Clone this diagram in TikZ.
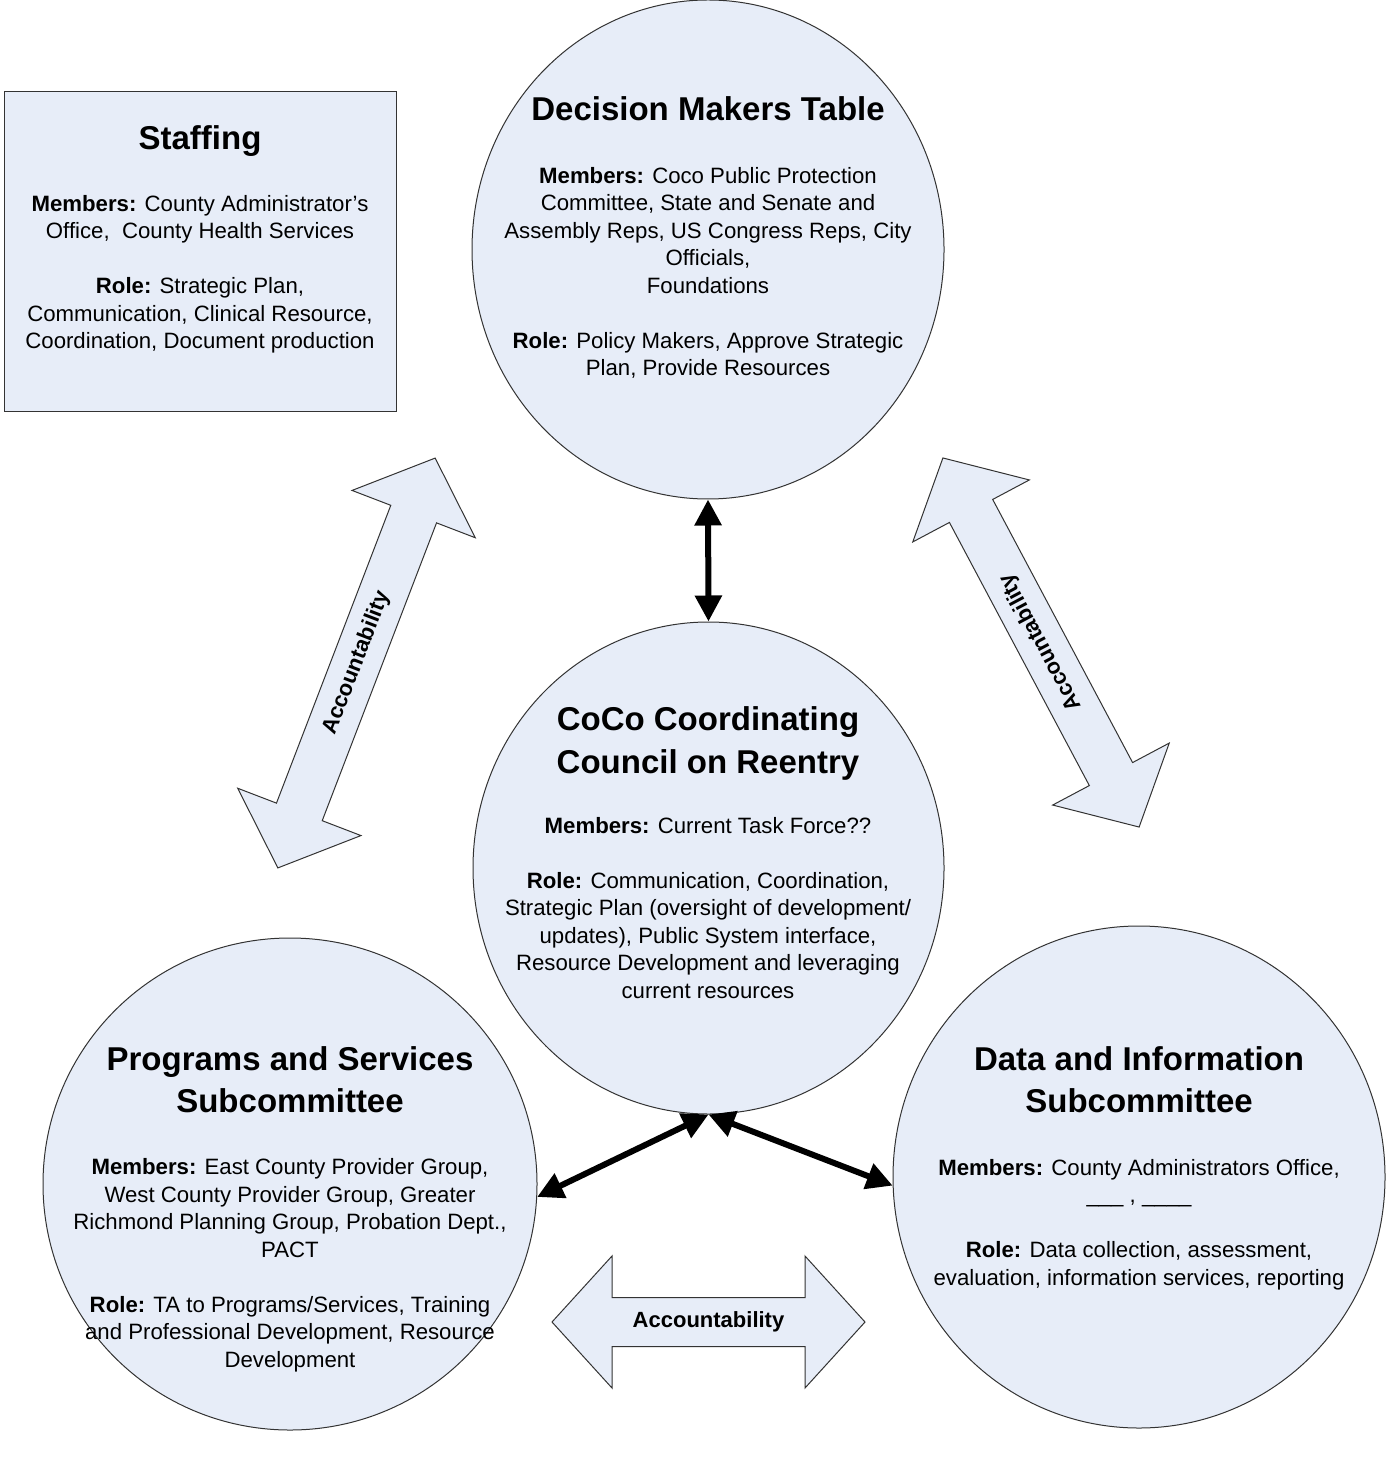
\documentclass[tikz,border=0pt]{standalone}
\usepackage{fontspec}
\setmainfont{Liberation Sans}
\usetikzlibrary{shapes.geometric,arrows.meta}
\definecolor{paleblue}{RGB}{231,237,248}
\tikzset{
  bubble/.style={ellipse,draw=black!80,fill=paleblue,line width=.5pt,inner sep=0pt},
  headline/.style={font=\fontsize{16.5}{21}\selectfont\bfseries,align=center,anchor=base,inner sep=0pt},
  bodytext/.style={font=\fontsize{11.1}{13.75}\selectfont,align=center,anchor=base,inner sep=0pt},
  link/.style={line width=3pt,{Triangle[length=13pt,width=13pt]}-{Triangle[length=13pt,width=13pt]}},
  accshape/.style={draw=black!80,fill=paleblue,line width=.5pt,line join=miter},
  acclabel/.style={font=\fontsize{11}{13}\selectfont\bfseries,inner sep=0pt}
}
% centre, angle, half length, label angle
\newcommand{\accarrow}[4]{%
  \begin{scope}[shift={#1},rotate=#2]
    \draw[accshape] (-#3,0) -- (-#3+60,66) -- (-#3+60,24.5) -- (#3-60,24.5) -- (#3-60,66)
      -- (#3,0) -- (#3-60,-66) -- (#3-60,-24.5) -- (-#3+60,-24.5) -- (-#3+60,-66) -- cycle;
  \end{scope}
  \node[acclabel,rotate=#4] at #1 {Accountability};}
\begin{document}
\begin{tikzpicture}[x=.5pt,y=-.5pt]
\fill[white] (0,0) rectangle (1390,1459);
\useasboundingbox (0,0) rectangle (1390,1459);
%
\node[draw=black!80,fill=paleblue,line width=.5pt,inner sep=0pt,
  minimum width=196pt,minimum height=160pt] (staffing) at (200,252) {};
\node[bubble,minimum width=236pt,minimum height=249.5pt] (dmt) at (708,249.5) {};
\node[bubble,minimum width=235.5pt,minimum height=246pt] (council) at (708.5,868) {};
\node[bubble,minimum width=247pt,minimum height=246pt] (programs) at (290,1184) {};
\node[bubble,minimum width=246pt,minimum height=251pt] (data) at (1139,1177) {};
%
\draw[link] (dmt.south) -- (council.north);
\draw[link] (council.south) -- (programs.-3);
\draw[link] (council.south) -- (data.182);
%
\accarrow{(356.5,663)}{69}{219.5}{69}
\accarrow{(1041,642.5)}{-62}{209}{118}
\accarrow{(708.5,1322)}{0}{156.5}{0}
%
% base = baseline of the last line
\node[headline] (staffing-head) at (200,150) {Staffing};
\node[bodytext] (staffing-text) at (200,349) {\textbf{Members:} County Administrator’s\\
  Office,\ \ County Health Services\\[13.75pt]
  \textbf{Role:} Strategic Plan,\\Communication, Clinical Resource,\\
  Coordination, Document production};
%
\node[headline] (dmt-head) at (708,121) {Decision Makers Table};
\node[bodytext] (dmt-text) at (708,376) {\textbf{Members:} Coco Public Protection\\
  Committee, State and Senate and\\Assembly Reps, US Congress Reps, City\\
  Officials,\\Foundations\\[13.75pt]
  \textbf{Role:} Policy Makers, Approve Strategic\\Plan, Provide Resources};
%
\node[headline,font=\fontsize{16.5}{21.5}\selectfont\bfseries] (council-head) at (708,773)
  {CoCo Coordinating\\Council on Reentry};
\node[bodytext] (council-text) at (708,998) {\textbf{Members:} Current Task Force??\\[13.75pt]
  \textbf{Role:} Communication, Coordination,\\
  Strategic Plan (oversight of development/\\updates), Public System interface,\\
  Resource Development and leveraging\\current resources};
%
\node[headline] (programs-head) at (290,1112) {Programs and Services\\Subcommittee};
\node[bodytext] (programs-text) at (290,1367) {\textbf{Members:} East County Provider Group,\\
  West County Provider Group, Greater\\Richmond Planning Group, Probation Dept.,\\
  PACT\\[13.75pt]
  \textbf{Role:} TA to Programs/Services, Training\\
  and Professional Development, Resource\\Development};
%
\node[headline] (data-head) at (1139,1112) {Data and Information\\Subcommittee};
\node[bodytext] (data-text) at (1139,1285) {\textbf{Members:} County Administrators Office,\\
  \_\_\_ , \_\_\_\_\\[13.75pt]
  \textbf{Role:} Data collection, assessment,\\
  evaluation, information services, reporting};
%
\end{tikzpicture}
\end{document}
